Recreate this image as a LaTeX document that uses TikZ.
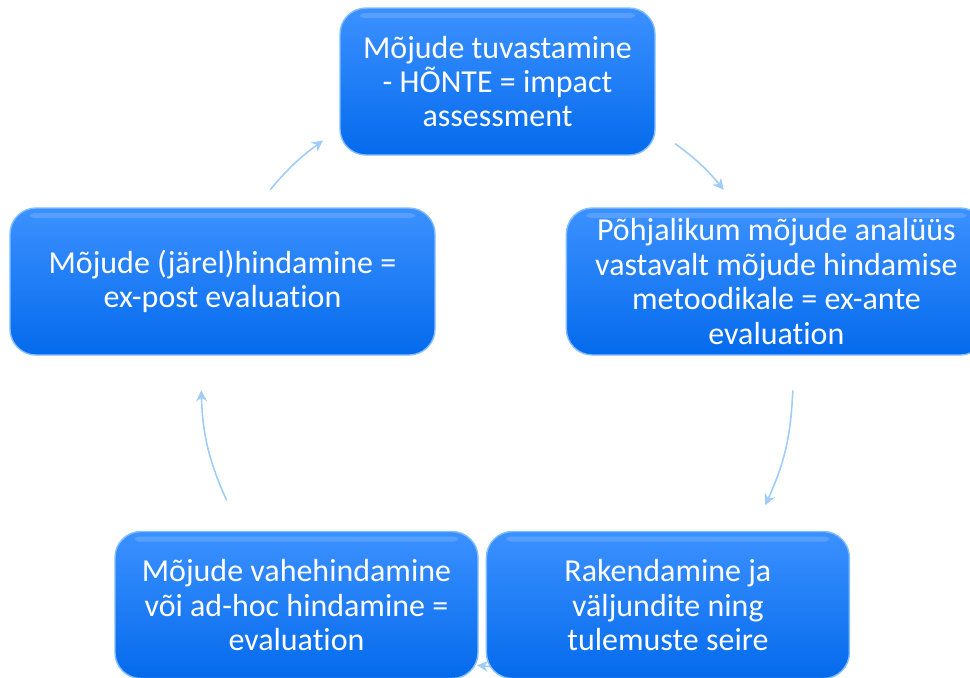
\documentclass[tikz,border=0pt]{standalone}
\usepackage{fontspec}
\setmainfont{Carlito}[Ligatures={NoCommon}]
\usetikzlibrary{backgrounds,calc,positioning,arrows.meta}
\def\figboxheight{1.47cm}
\def\figboxwidth{3.63cm}
\def\figcycr{2.96cm}
\definecolor{boxtop}{RGB}{60,145,255}
\definecolor{boxbot}{RGB}{4,106,236}
\definecolor{boxrim}{RGB}{130,190,255}
\definecolor{cycline}{RGB}{160,204,248}

\begin{document}
\begin{tikzpicture}[
  node distance=0.07cm,
  box/.style={draw=boxrim,line width=0.4pt,rounded corners=0.26cm,
    top color=boxtop,bottom color=boxbot,
    minimum width=\figboxwidth,minimum height=\figboxheight,inner sep=0pt,
    align=center,text=white,font=\fontsize{9.1}{9.8}\selectfont,
    path picture={\fill[white,opacity=0.15,rounded corners=0.04cm]
      ($(path picture bounding box.north west)+(0.2,-0.05)$) rectangle
      ($(path picture bounding box.north east)+(-0.2,-0.1)$);}},
  cyc/.style={draw=cycline,line width=0.45pt,-{Stealth[length=1.1mm,width=1.1mm]}},
]
\useasboundingbox (0,0) rectangle (9.70,6.77);

%%%%%%%%%%%%%%%
% Boxes
%%%%%%%%%%%%%%%
\node (assess) [box,minimum width=3.15cm] at (4.975,5.955) {Mõjude tuvastamine\\- HÕNTE = impact\\assessment};
\node (expost) [box,minimum width=4.25cm] at (2.225,3.955) {Mõjude (järel)hindamine =\\ex-post evaluation};
\node (exante) [box,minimum width=4.2cm,right=1.3cm of expost] {Põhjalikum mõjude analüüs\\vastavalt mõjude hindamise\\metoodikale = ex-ante\\evaluation};
\node (interim) [box] at (2.965,0.72) {Mõjude vahehindamine\\või ad-hoc hindamine =\\evaluation};
\node (monitor) [box,right=of interim] {Rakendamine ja\\väljundite ning\\tulemuste seire};

%%%%%%%%%%%%%%%
% Cycle arrows
%%%%%%%%%%%%%%%
\coordinate (hub) at (4.97,2.97);
\coordinate (c1s) at ($(hub)+(140:\figcycr)$);
\coordinate (c1e) at ($(hub)+(126:\figcycr)$);
\coordinate (c2s) at ($(hub)+(53:\figcycr)$);
\coordinate (c2e) at ($(hub)+(40:\figcycr)$);
\coordinate (c3s) at ($(hub)+(-2:\figcycr)$);
\coordinate (c3e) at ($(hub)+(-25:\figcycr)$);
\coordinate (c4s) at ($(hub)+(-78:2.88)$);
\coordinate (c4e) at ($(hub)+(-94:2.86)$);
\coordinate (c5s) at ($(hub)+(204:\figcycr)$);
\coordinate (c5e) at ($(hub)+(182:\figcycr)$);

\begin{scope}[on background layer]
\draw[cyc] (c1s) to[bend left=7] (c1e);
\draw[cyc] (c2s) to[bend left=7] (c2e);
\draw[cyc] (c3s) to[bend left=11] (c3e);
\draw[cyc] (c4s) to[bend left=8] (c4e);
\draw[cyc] (c5s) to[bend left=11] (c5e);
\end{scope}

\end{tikzpicture}
\end{document}
